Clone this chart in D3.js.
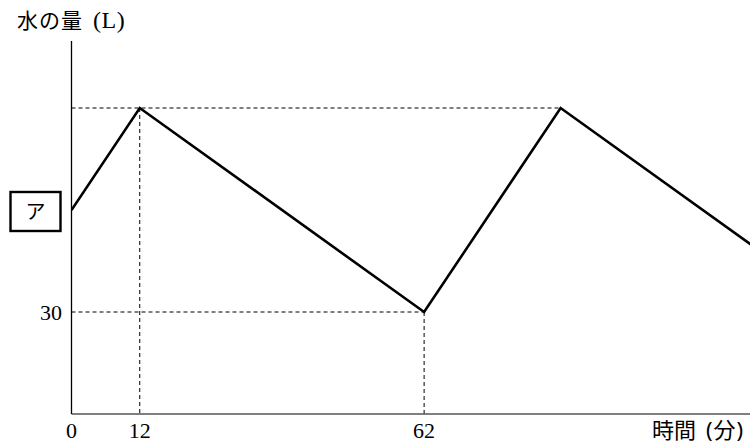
<!DOCTYPE html>
<html><head><meta charset="utf-8">
<script src="https://cdn.jsdelivr.net/npm/d3@7"></script>
<style>body{margin:0;background:#fff}svg{display:block}</style>
</head><body>
<svg id="c" width="750" height="445"></svg>
<script>
const times = [0, 12, 62, 86, 120];
const volumes = [60, 90, 30, 90, 49.2];
const xTicks = [0, 12, 62];
const yTicks = [30];
const yLabel = "水の量";
const yUnit = "(L)";
const xLabel = "時間";
const xUnit = "(分)";
const boxLabel = "ア";

const svg = d3.select("#c");
const x0 = 71.5, y0 = 414;
const x = d3.scaleLinear().domain([0, 119.3]).range([x0, 750]);
const y = d3.scaleLinear().domain([0, 110]).range([y0, 40]);
const serif = "'Liberation Serif','DejaVu Serif',serif";
const cjk = "'Noto Sans CJK JP','Noto Sans',sans-serif";
const sansMix = "'Noto Sans','Noto Sans CJK JP',sans-serif";

const pts = times.map((t, i) => [t, volumes[i]]);
// dashed guides
const guides = [
  [[0, 90], [86, 90]],
  [[12, 90], [12, 0]],
  [[0, 30], [62, 30]],
  [[62, 30], [62, 0]]
];
guides.forEach(g => {
  svg.append("line")
    .attr("x1", x(g[0][0])).attr("y1", y(g[0][1]))
    .attr("x2", x(g[1][0])).attr("y2", y(g[1][1]))
    .attr("stroke", "#000").attr("stroke-width", 1).attr("stroke-dasharray", "4,3");
});

// axes
svg.append("line").attr("x1", x0).attr("y1", y0).attr("x2", 750).attr("y2", y0)
  .attr("stroke", "#555").attr("stroke-width", 1.3);
svg.append("line").attr("x1", x0).attr("y1", y0).attr("x2", x0).attr("y2", 41)
  .attr("stroke", "#000").attr("stroke-width", 1.3);

// data line
svg.append("clipPath").attr("id", "cl").append("rect")
  .attr("x", x0).attr("y", 0).attr("width", 750 - x0).attr("height", 445);
svg.append("path").datum(pts)
  .attr("d", d3.line().x(d => x(d[0])).y(d => y(d[1])))
  .attr("fill", "none").attr("stroke", "#000").attr("stroke-width", 2.6)
  .attr("stroke-linejoin", "miter").attr("clip-path", "url(#cl)");

// ticks
svg.selectAll(".xt").data(xTicks).enter().append("text")
  .attr("x", d => x(d)).attr("y", 438).attr("text-anchor", "middle")
  .attr("font-family", serif).attr("font-size", 22).attr("fill", "#000").text(d => d);
svg.selectAll(".yt").data(yTicks).enter().append("text")
  .attr("x", 62).attr("y", d => y(d) + 7.5).attr("text-anchor", "end")
  .attr("font-family", serif).attr("font-size", 22).attr("fill", "#000").text(d => d);

// labels
const yl = svg.append("text").attr("x", 17).attr("y", 28).attr("fill", "#000");
yl.append("tspan").attr("font-family", cjk).attr("font-size", 21).attr("letter-spacing", 1).text(yLabel);
yl.append("tspan").attr("font-family", serif).attr("font-size", 24).attr("x", 93)
  .attr("letter-spacing", 0.5).text(yUnit);

const xl = svg.append("text").attr("x", 652).attr("y", 438).attr("fill", "#000");
xl.append("tspan").attr("font-family", cjk).attr("font-size", 22).text(xLabel);
xl.append("tspan").attr("font-family", sansMix).attr("font-size", 22).attr("x", 706).attr("letter-spacing", 1).text(xUnit);

// box ア
svg.append("rect").attr("x", 10.5).attr("y", 192).attr("width", 50).attr("height", 39)
  .attr("fill", "none").attr("stroke", "#000").attr("stroke-width", 2.4);
svg.append("text").attr("x", 35.5).attr("y", 219).attr("text-anchor", "middle")
  .attr("font-family", cjk).attr("font-size", 20).attr("fill", "#000").text(boxLabel);
</script>
</body></html>
